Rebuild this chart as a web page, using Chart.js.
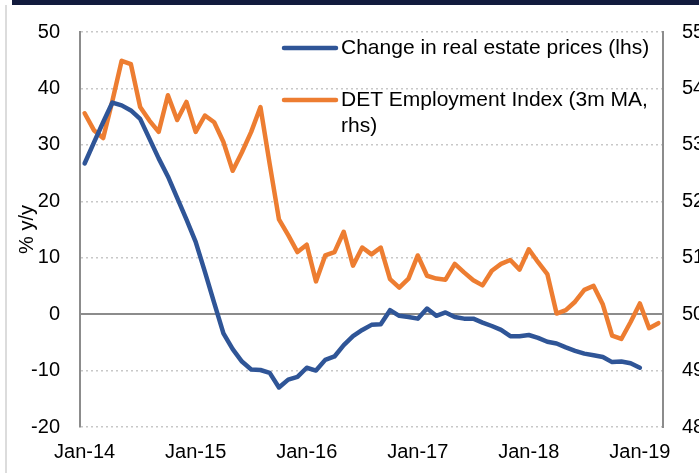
<!DOCTYPE html>
<html>
<head>
<meta charset="utf-8">
<script src="https://cdn.jsdelivr.net/npm/chart.js@4/dist/chart.umd.min.js"></script>
<style>
  html, body { margin: 0; padding: 0; background: #fff; overflow: hidden; }
  #wrap { position: relative; width: 699px; height: 473px; }
  canvas { position: absolute; left: 0; top: 0; }
  #topbar { position: absolute; left: 12px; top: 0; width: 687px; height: 5px; background: #121b3d; }
  #edge { position: absolute; left: 5px; top: 5px; width: 2px; height: 468px; background: #dcdcdc; }
</style>
</head>
<body>
<div id="wrap">
  <canvas id="chart" width="699" height="473"></canvas>
  <div id="topbar"></div>
  <div id="edge"></div>
</div>
<script>
// monthly categories, Jan-14 .. Mar-19
const monthNames = ["Jan", "Feb", "Mar", "Apr", "May", "Jun", "Jul", "Aug", "Sep", "Oct", "Nov", "Dec"];
const yearLabels = ["14", "15", "16", "17", "18", "19"];
const monthCount = 63;

const categories = [];
for (let i = 0; i < monthCount; i++) {
    categories.push(monthNames[i % 12] + "-" + yearLabels[Math.floor(i / 12)]);
}

// Change in real estate prices, % y/y (left axis)
const realEstateChange = [
    26.7, 30.4, 34.0, 37.5, 37.0, 36.1, 34.6, 31.1, 27.6, 24.4, 20.6, 16.8,
    12.8, 7.5, 2.0, -3.4, -6.2, -8.4, -9.8, -9.9, -10.4, -13.0, -11.6, -11.1,
    -9.5, -10.0, -8.1, -7.5, -5.5, -3.9, -2.8, -1.9, -1.8, 0.7, -0.3, -0.5,
    -0.8, 1.0, -0.3, 0.3, -0.5, -0.8, -0.8, -1.5, -2.1, -2.8, -3.9, -3.9,
    -3.7, -4.2, -4.9, -5.2, -5.9, -6.5, -7.0, -7.3, -7.6, -8.5, -8.4, -8.7,
    -9.5
];

// DET Employment Index, 3m moving average (right axis)
const detEmployment = [
    53.56, 53.26, 53.12, 53.78, 54.49, 54.43, 53.67, 53.43, 53.23, 53.88, 53.44, 53.76,
    53.23, 53.52, 53.40, 53.05, 52.54, 52.87, 53.23, 53.67, 52.66, 51.68, 51.40, 51.10,
    51.23, 50.58, 51.04, 51.10, 51.46, 50.86, 51.18, 51.06, 51.18, 50.62, 50.47, 50.63,
    51.04, 50.68, 50.63, 50.61, 50.89, 50.74, 50.60, 50.51, 50.77, 50.89, 50.96, 50.79,
    51.15, 50.92, 50.71, 50.01, 50.07, 50.22, 50.43, 50.50, 50.17, 49.62, 49.56, 49.86,
    50.19, 49.75, 49.84
];

const lhsTicks = [-20, -10, 0, 10, 20, 30, 40, 50];
const rhsTicks = [48, 49, 50, 51, 52, 53, 54, 55];

const FONT = "'Liberation Sans', Arial, sans-serif";

// legend drawn inside the plot, with wrapping for the long label
const legendRows = [48, 100];
const insideLegend = {
    id: "insideLegend",
    afterDatasetsDraw(chart) {
        const ctx = chart.ctx;
        ctx.save();
        ctx.font = "21px " + FONT;
        ctx.textBaseline = "middle";
        ctx.fillStyle = "#000";
        chart.data.datasets.forEach((ds, k) => {
            const y = legendRows[k];
            ctx.strokeStyle = ds.borderColor;
            ctx.lineWidth = 4.5;
            ctx.lineCap = "round";
            ctx.beginPath();
            ctx.moveTo(284, y);
            ctx.lineTo(336, y);
            ctx.stroke();

            const words = ds.label.split(" ");
            const lines = [];
            let cur = "";
            words.forEach(w => {
                const test = cur ? cur + " " + w : w;
                if (ctx.measureText(test).width > 322 && cur) {
                    lines.push(cur);
                    cur = w;
                } else {
                    cur = test;
                }
            });
            lines.push(cur);
            lines.forEach((t, j) => ctx.fillText(t, 341, y + j * 26));
        });
        ctx.restore();
    }
};

new Chart(document.getElementById("chart"), {
    type: "line",
    data: {
        labels: categories,
        datasets: [
            {
                label: "Change in real estate prices (lhs)",
                data: realEstateChange,
                yAxisID: "y",
                borderColor: "#2f5597",
                borderWidth: 4.5,
                pointRadius: 0,
                tension: 0,
                borderJoinStyle: "round",
                borderCapStyle: "round"
            },
            {
                label: "DET Employment Index (3m MA, rhs)",
                data: detEmployment,
                yAxisID: "y1",
                borderColor: "#ed7d31",
                borderWidth: 4.5,
                pointRadius: 0,
                tension: 0,
                borderJoinStyle: "round",
                borderCapStyle: "round"
            }
        ]
    },
    options: {
        responsive: false,
        animation: false,
        layout: { padding: { top: 29, left: 0, right: 0, bottom: 0 } },
        plugins: {
            legend: { display: false },
            tooltip: { enabled: false }
        },
        scales: {
            x: {
                offset: true,
                grid: { display: false, drawTicks: false },
                border: { display: false },
                ticks: {
                    autoSkip: false,
                    maxRotation: 0,
                    padding: 13,
                    color: "#000",
                    font: { family: FONT, size: 20 },
                    callback: (v, i) => (i % 12 === 0 ? categories[i] : "")
                },
                afterFit: s => { s.height = 46; }
            },
            y: {
                position: "left",
                min: lhsTicks[0],
                max: lhsTicks[lhsTicks.length - 1],
                ticks: {
                    stepSize: 10,
                    padding: 20,
                    color: "#000",
                    font: { family: FONT, size: 20 }
                },
                grid: {
                    drawTicks: false,
                    color: c => (c.tick && c.tick.value === 0 ? "#8c8c8c" : "#c8c8c8"),
                    lineWidth: c => (c.tick && c.tick.value === 0 ? 2 : 1.5)
                },
                border: {
                    color: "#8c8c8c",
                    width: 2,
                    dash: c => (c.tick && c.tick.value === 0 ? [] : [2, 3])
                },
                title: {
                    display: true,
                    text: "% y/y",
                    color: "#000",
                    font: { family: FONT, size: 20 },
                    padding: { top: 15, bottom: 0 }
                },
                afterFit: s => { s.width = 80; }
            },
            y1: {
                position: "right",
                min: rhsTicks[0],
                max: rhsTicks[rhsTicks.length - 1],
                ticks: {
                    stepSize: 1,
                    padding: 19,
                    color: "#000",
                    font: { family: FONT, size: 20 }
                },
                grid: { display: false, drawTicks: false },
                border: { color: "#8c8c8c", width: 2 },
                afterFit: s => { s.width = 36; }
            }
        }
    },
    plugins: [insideLegend]
});
</script>
</body>
</html>
